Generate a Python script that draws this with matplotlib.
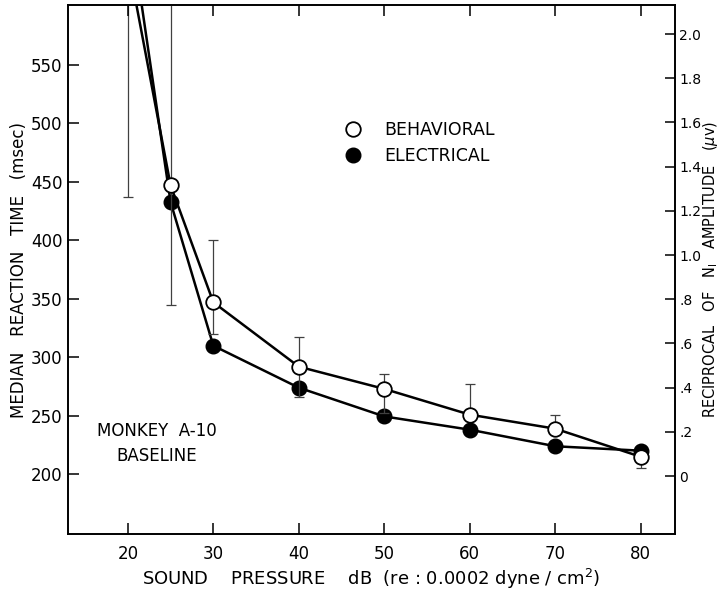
import numpy as np
import matplotlib
matplotlib.use("Agg")
import matplotlib.pyplot as plt
from matplotlib.lines import Line2D

plt.rcParams['font.family'] = ['DejaVu Sans']

# sound pressure levels (dB)
db = [20, 25, 30, 40, 50, 60, 70, 80]

# behavioral median reaction time (msec), left axis
behav = [640, 447, 347, 292, 273, 251, 239, 215]
behav_hi = [840, 650, 400, 317, 286, 277, 251, 215]   # top end of bar
behav_lo = [437, 345, 320, 266, 252, 251, 239, 205]   # bottom end of bar

# electrical: reciprocal of N1 amplitude (uV), right axis
elec = [2.56, 1.24, 0.59, 0.40, 0.27, 0.21, 0.135, 0.115]

left_ticks = [200, 250, 300, 350, 400, 450, 500, 550]
right_ticks = [0, 0.2, 0.4, 0.6, 0.8, 1.0, 1.2, 1.4, 1.6, 1.8, 2.0]
right_labels = ["0", ".2", ".4", ".6", ".8", "1.0", "1.2", "1.4", "1.6", "1.8", "2.0"]
x_ticks = [20, 30, 40, 50, 60, 70, 80]

fig = plt.figure(figsize=(7.2, 5.97), dpi=100)
ax = fig.add_axes([0.0944, 0.1055, 0.8431, 0.886])
ax2 = ax.twinx()
# behavioral axis on top so the white circles sit over the black ones
ax.set_zorder(ax2.get_zorder() + 1)
ax.patch.set_visible(False)

ax.set_xlim(13, 84)
ax.set_ylim(149, 601)
ax2.set_ylim(-0.262, 2.131)

b = np.array(behav)
yerr = [b - np.array(behav_lo), np.array(behav_hi) - b]
ax.errorbar(db, behav, yerr=yerr, fmt='none', ecolor='0.25', elinewidth=0.9,
            capsize=3.5, capthick=0.9, zorder=1)
ax.plot(db, behav, '-', color='black', lw=1.8, zorder=2)
ax.plot(db, behav, 'o', ms=10.5, mfc='white', mec='black', mew=1.3, zorder=3)

ax2.plot(db, elec, '-o', color='black', lw=1.8, ms=10.5, mfc='black', mec='black')

for s in ['left', 'right', 'top', 'bottom']:
    ax.spines[s].set_linewidth(1.2)
    ax2.spines[s].set_linewidth(1.2)

ax.set_xticks(x_ticks)
ax.set_yticks(left_ticks)
ax.tick_params(axis='both', direction='in', length=8, width=1.1, labelsize=12,
               top=True, pad=8)
ax.tick_params(axis='y', pad=4)
ax2.set_yticks(right_ticks)
ax2.set_yticklabels(right_labels)
ax2.tick_params(axis='y', direction='in', length=7, width=1.1, labelsize=10, pad=3)

ax.set_xlabel("SOUND    PRESSURE    dB  (re : 0.0002 dyne / cm$^{2}$)", fontsize=13,
              labelpad=3)
ax.set_ylabel("MEDIAN   REACTION   TIME   (msec)", fontsize=12, labelpad=2)
ax2.set_ylabel("RECIPROCAL   OF   N$_{\\mathsf{I}}$   AMPLITUDE   ($\\mu$v)",
               fontsize=10.5, labelpad=0)

handles = [Line2D([], [], ls='none', marker='o', ms=10.5, mfc='white', mec='black', mew=1.3),
           Line2D([], [], ls='none', marker='o', ms=10.5, mfc='black', mec='black')]
ax.legend(handles, ["BEHAVIORAL", "ELECTRICAL"], loc='upper left',
          bbox_to_anchor=(0.43, 0.81), frameon=False, fontsize=12.5,
          handlelength=1.0, handletextpad=1.3, labelspacing=0.45)

ax.text(23.4, 226, "MONKEY  A-10\nBASELINE", ha='center', va='center',
        fontsize=12, linespacing=1.5)

fig.savefig("out.png", dpi=100)
